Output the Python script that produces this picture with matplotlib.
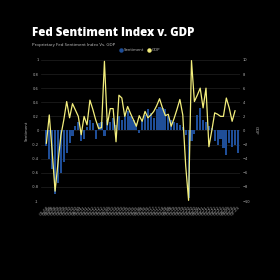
import numpy as np
import matplotlib.pyplot as plt

# quarterly labels, 2008 Q1 .. 2024 Q3
quarters = [f"Q{q}-{y % 100:02d}" for y in range(2008, 2025) for q in range(1, 5)][:67]

# sentiment index (left axis), one per quarter
sentiment = [-0.22, -0.40, -0.55, -0.90, -0.75, -0.60, -0.45, -0.32, -0.18, -0.08,
             0.06, 0.12, -0.15, -0.12, 0.05, 0.15, 0.10, -0.12, 0.10, 0.12,
             -0.08, 0.15, 0.12, 0.18, 0.08, 0.20, 0.15, 0.25, 0.28, 0.20,
             0.15, 0.10, -0.04, 0.15, 0.22, 0.30, 0.25, 0.18, 0.30, 0.33,
             0.32, 0.30, 0.20, 0.15, 0.12, 0.10, 0.08, 0.05, -0.06, -0.95,
             -0.15, -0.05, 0.22, 0.32, 0.15, 0.12, 0.06, 0.04, -0.15, -0.20,
             -0.12, -0.25, -0.35, -0.18, -0.23, -0.20, -0.32]

# GDP growth (right axis), latest quarter not yet out
gdp = [-1.8, 2.2, -3.0, -8.6, -4.6, -0.7, 1.5, 4.1, 1.8, 3.8,
       2.9, 2.0, -0.6, 2.0, 0.8, 4.3, 3.0, 1.5, 0.3, 0.4,
       9.8, 0.8, 3.1, 3.1, -1.6, 5.0, 4.6, 2.0, 3.4, 2.4,
       1.5, 0.6, 2.1, 1.3, 2.7, 1.8, 2.2, 2.7, 3.5, 4.5,
       3.2, 2.1, 2.3, 0.6, 1.7, 3.0, 4.4, 2.2, -5.0, -9.9,
       9.9, 4.1, 5.0, 6.0, 3.2, 6.0, -2.3, 0.0, 2.5, 2.3,
       2.0, 2.0, 4.6, 3.2, 1.3, 2.8]

bg = 'black'
blue = '#1f4e98'
yellow = '#f3ee7c'
grey = '#b4b4b4'

fig = plt.figure(figsize=(2.8, 2.8), dpi=100, facecolor=bg)
ax = fig.add_axes([0.148, 0.282, 0.709, 0.504], facecolor=bg)
ax2 = ax.twinx()

x = np.arange(len(sentiment))
ax.bar(x, sentiment, width=0.75, color=blue, zorder=2, label='Sentiment')
ax2.plot(np.arange(len(gdp)), gdp, color=yellow, lw=0.9, zorder=3, label='GDP')

ax.set_xlim(-1.7, 66.7)
ax.set_ylim(-1, 1)
ax2.set_ylim(-10, 10)
ax.set_yticks(np.linspace(-1, 1, 11))
ax.set_yticklabels(['-1', '-0.8', '-0.6', '-0.4', '-0.2', '0', '0.2', '0.4', '0.6', '0.8', '1'])
ax2.set_yticks(np.arange(-10, 11, 2))
ax.grid(axis='y', color='#222222', lw=0.5, zorder=0)

ax.set_xticks(x)
ax.set_xticklabels(quarters, rotation=45, ha='right', rotation_mode='anchor')

for a in (ax, ax2):
    for s in a.spines.values():
        s.set_visible(False)
    a.tick_params(length=0, colors=grey, labelsize=2.6, pad=2)
ax.tick_params(axis='x', labelsize=2.8, pad=3, colors='#9a9a9a')

ax.set_ylabel('Sentiment', color=grey, fontsize=2.8, labelpad=2)
ax2.set_ylabel('GDP', color=grey, fontsize=2.8, rotation=270, labelpad=5)

fig.text(0.113, 0.882, 'Fed Sentiment Index v. GDP', color='white', fontsize=8.3,
         fontweight='heavy', family='Open Sans', va='center')
fig.text(0.115, 0.839, 'Proprietary Fed Sentiment Index Vs. GDP', color='#c8c8c8',
         fontsize=3.2, family='Open Sans', va='center')

h1, l1 = ax.get_legend_handles_labels()
h2, l2 = ax2.get_legend_handles_labels()
handles = [plt.Line2D([], [], marker='o', ls='', color=blue, markersize=2.2),
           plt.Line2D([], [], marker='o', ls='', color=yellow, markersize=2.2)]
fig.legend(handles, l1 + l2, loc='center', bbox_to_anchor=(0.50, 0.82), ncol=2,
           frameon=False, fontsize=2.8, labelcolor=grey, handletextpad=0.2,
           columnspacing=1.0, handlelength=0.8)

fig.savefig('out.png', dpi=100, facecolor=bg)
